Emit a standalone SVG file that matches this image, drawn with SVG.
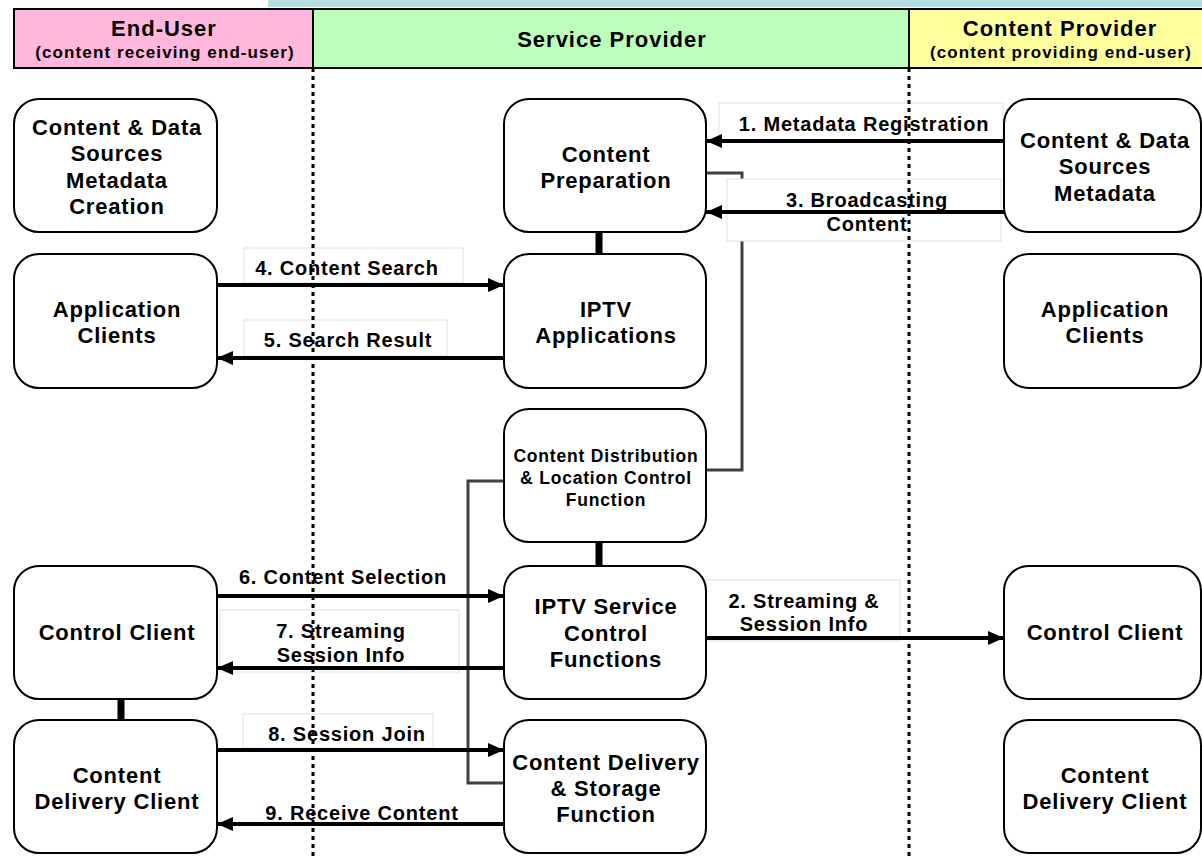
<svg xmlns="http://www.w3.org/2000/svg" width="1202" height="858" viewBox="0 0 1202 858">
<defs>
<marker id="ah" markerWidth="16" markerHeight="14" refX="16" refY="7" orient="auto" markerUnits="userSpaceOnUse">
<path d="M0,0 L16,7 L0,14 Z" fill="#000"/>
</marker>
<style>
.node{fill:#fff;stroke:#000;stroke-width:2}
.t{font-family:"Liberation Sans",Arial,sans-serif;font-weight:bold;fill:#000;text-anchor:middle}
.nt{font-size:22px;letter-spacing:0.8px}
.lt{font-size:20px;letter-spacing:0.8px}
.ht{font-size:22px;letter-spacing:1px}
.st{font-size:17px;letter-spacing:1.1px}
.ct{font-size:17.5px;letter-spacing:0.8px}
.lbl{fill:#fff;stroke:#e0e0e0;stroke-width:1}
.arr{stroke:#000;stroke-width:4;fill:none}
.gl{stroke:#404040;stroke-width:3;fill:none}
.thick{stroke:#000;stroke-width:7}
.dot{stroke:#000;stroke-width:3;stroke-dasharray:4 4}
</style>
</defs>
<rect width="1202" height="858" fill="#fff"/>
<rect x="268" y="0" width="934" height="7" fill="#b9dee1"/>
<g id="header">
<rect x="14" y="9" width="299" height="59" fill="#ffb7dc" stroke="#000" stroke-width="2"/>
<rect x="313" y="9" width="596" height="59" fill="#bcffbc" stroke="#000" stroke-width="2"/>
<rect x="909" y="9" width="295" height="59" fill="#ffff9e" stroke="#000" stroke-width="2"/>
<text class="t ht" x="164" y="36">End-User</text>
<text class="t st" x="165" y="58">(content receiving end-user)</text>
<text class="t ht" x="612" y="47">Service Provider</text>
<text class="t ht" x="1060" y="36">Content Provider</text>
<text class="t st" x="1061" y="58">(content providing end-user)</text>
</g>
<g id="connectors">
<line class="thick" x1="599" y1="232" x2="599" y2="254"/>
<line class="thick" x1="599" y1="542" x2="599" y2="566"/>
<line class="thick" x1="121" y1="699" x2="121" y2="720"/>
<polyline class="gl" points="706,173 742,173 742,470 706,470"/>
<polyline class="gl" points="504,481 468,481 468,783 504,783"/>
<rect class="lbl" x="719" y="103" width="284" height="37"/>
<rect class="lbl" x="727" y="179" width="274" height="62"/>
<rect class="lbl" x="244" y="248" width="219" height="35"/>
<rect class="lbl" x="244" y="320" width="203" height="36"/>
<rect class="lbl" x="220" y="610" width="239" height="62"/>
<rect class="lbl" x="706" y="580" width="194" height="61"/>
<rect class="lbl" x="243" y="714" width="190" height="34"/>
<line class="arr" x1="1004" y1="141" x2="706" y2="141" marker-end="url(#ah)"/>
<line class="arr" x1="1004" y1="212" x2="706" y2="212" marker-end="url(#ah)"/>
<line class="arr" x1="217" y1="285" x2="504" y2="285" marker-end="url(#ah)"/>
<line class="arr" x1="504" y1="358" x2="217" y2="358" marker-end="url(#ah)"/>
<line class="arr" x1="217" y1="596" x2="504" y2="596" marker-end="url(#ah)"/>
<line class="arr" x1="504" y1="668" x2="217" y2="668" marker-end="url(#ah)"/>
<line class="arr" x1="706" y1="638" x2="1004" y2="638" marker-end="url(#ah)"/>
<line class="arr" x1="217" y1="750" x2="504" y2="750" marker-end="url(#ah)"/>
<line class="arr" x1="504" y1="824" x2="217" y2="824" marker-end="url(#ah)"/>
<text class="t lt" x="864" y="131">1. Metadata Registration</text>
<text class="t lt" x="867" y="207">3. Broadcasting</text>
<text class="t lt" x="867" y="231">Content</text>
<text class="t lt" x="347" y="275">4. Content Search</text>
<text class="t lt" x="348" y="347">5. Search Result</text>
<text class="t lt" x="343" y="584">6. Content Selection</text>
<text class="t lt" x="341" y="638">7. Streaming</text>
<text class="t lt" x="341" y="662">Session Info</text>
<text class="t lt" x="804" y="608">2. Streaming &amp;</text>
<text class="t lt" x="804" y="631">Session Info</text>
<text class="t lt" x="347" y="741">8. Session Join</text>
<text class="t lt" x="362" y="820">9. Receive Content</text>
</g>
<g id="eu-sources">
<rect class="node" x="14" y="99" width="203" height="133" rx="25"/>
<text class="t nt" x="117" y="135">Content &amp; Data</text>
<text class="t nt" x="117" y="161">Sources</text>
<text class="t nt" x="117" y="188">Metadata</text>
<text class="t nt" x="117" y="214">Creation</text>
</g>
<g id="eu-app">
<rect class="node" x="14" y="254" width="203" height="134" rx="25"/>
<text class="t nt" x="117" y="317">Application</text>
<text class="t nt" x="117" y="343">Clients</text>
</g>
<g id="eu-control">
<rect class="node" x="14" y="566" width="203" height="133" rx="25"/>
<text class="t nt" x="117" y="640">Control Client</text>
</g>
<g id="eu-delivery">
<rect class="node" x="14" y="720" width="203" height="133" rx="25"/>
<text class="t nt" x="117" y="783">Content</text>
<text class="t nt" x="117" y="809">Delivery Client</text>
</g>
<g id="sp-prep">
<rect class="node" x="504" y="99" width="202" height="133" rx="25"/>
<text class="t nt" x="606" y="162">Content</text>
<text class="t nt" x="606" y="188">Preparation</text>
</g>
<g id="sp-apps">
<rect class="node" x="504" y="254" width="202" height="134" rx="25"/>
<text class="t nt" x="606" y="317">IPTV</text>
<text class="t nt" x="606" y="343">Applications</text>
</g>
<g id="sp-cdlc">
<rect class="node" x="504" y="409" width="202" height="133" rx="25"/>
<text class="t ct" x="606" y="462">Content Distribution</text>
<text class="t ct" x="606" y="484">&amp; Location Control</text>
<text class="t ct" x="606" y="506">Function</text>
</g>
<g id="sp-scf">
<rect class="node" x="504" y="566" width="202" height="133" rx="25"/>
<text class="t nt" x="606" y="614">IPTV Service</text>
<text class="t nt" x="606" y="641">Control</text>
<text class="t nt" x="606" y="667">Functions</text>
</g>
<g id="sp-cdsf">
<rect class="node" x="504" y="720" width="202" height="133" rx="25"/>
<text class="t nt" x="606" y="770">Content Delivery</text>
<text class="t nt" x="606" y="796">&amp; Storage</text>
<text class="t nt" x="606" y="822">Function</text>
</g>
<g id="cp-sources">
<rect class="node" x="1004" y="99" width="197" height="133" rx="25"/>
<text class="t nt" x="1105" y="148">Content &amp; Data</text>
<text class="t nt" x="1105" y="174">Sources</text>
<text class="t nt" x="1105" y="201">Metadata</text>
</g>
<g id="cp-app">
<rect class="node" x="1004" y="254" width="197" height="134" rx="25"/>
<text class="t nt" x="1105" y="317">Application</text>
<text class="t nt" x="1105" y="343">Clients</text>
</g>
<g id="cp-control">
<rect class="node" x="1004" y="566" width="197" height="133" rx="25"/>
<text class="t nt" x="1105" y="640">Control Client</text>
</g>
<g id="cp-delivery">
<rect class="node" x="1004" y="720" width="197" height="133" rx="25"/>
<text class="t nt" x="1105" y="783">Content</text>
<text class="t nt" x="1105" y="809">Delivery Client</text>
</g>
<g id="lanes">
<line class="dot" x1="313" y1="68" x2="313" y2="858"/>
<line class="dot" x1="909" y1="68" x2="909" y2="858"/>
</g>
</svg>
